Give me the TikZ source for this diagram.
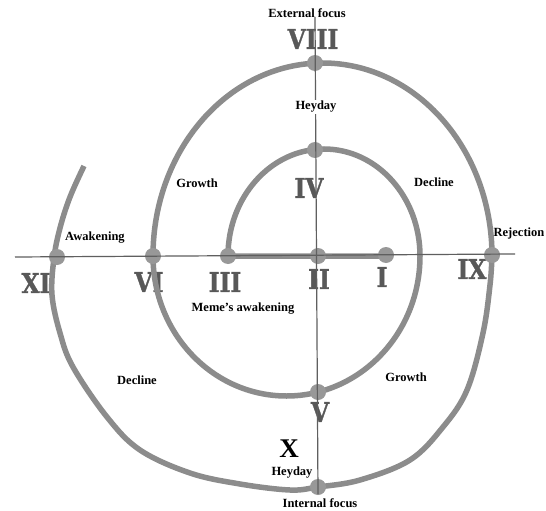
\documentclass[tikz,border=0pt]{standalone}
\usepackage{fontspec}
\setmainfont{Liberation Serif}
\newfontfamily\numfont[FakeStretch=0.86, FakeBold=1.2]{DejaVu Serif Bold}
\definecolor{spiralgray}{RGB}{140,140,140}
\definecolor{dotgray}{RGB}{152,152,152}
\definecolor{axisgray}{RGB}{95,95,95}
\definecolor{numgray}{RGB}{88,88,88}
\begin{document}
\begin{tikzpicture}[x=1pt,y=-1pt,
  spiralline/.style={line width=5.5pt, draw=spiralgray},
  axisline/.style={line width=1.2pt, draw=axisgray},
  dotnode/.style={circle, fill=dotgray, minimum size=16pt, inner sep=0pt},
  num/.style={font=\numfont\fontsize{27}{27}\selectfont, text=numgray, inner sep=0pt},
  lbl/.style={font=\bfseries\fontsize{12.5}{13}\selectfont, inner sep=0pt}]
\fill[white] (0,0) rectangle (546,511);
\useasboundingbox (0,0) rectangle (546,511);
% roman numerals
\node[num] (nVIII) at (313,39) {VIII};
\node[num] (nIV) at (309,188) {IV};
\node[num] (nIII) at (225,282) {III};
\node[num] (nII) at (319,279) {II};
\node[num] (nI) at (382,277) {I};
\node[num] (nVI) at (149,282) {VI};
\node[num] (nXI) at (36,283) {XI};
\node[num] (nIX) at (472,269) {IX};
\node[num] (nV) at (320,412) {V};
\node[font=\bfseries\fontsize{27}{27}\selectfont, inner sep=0pt] (nX) at (289,449) {X};
% spiral
\draw[spiralline] (386,256) -- (228,256)
  arc[start angle=180, end angle=360, x radius=96, y radius=107]
  arc[start angle=0, end angle=180, x radius=133.5, y radius=140]
  arc[start angle=180, end angle=360, x radius=169.5, y radius=193]
  -- plot[smooth, tension=0.6] coordinates {(492,256) (490,285) (483,333) (467,390) (443,427) (410,460) (360,480) (318,487) (290,490) (240,484) (190,473) (140,450) (107,417) (73,367) (60,333) (52,295) (54,258) (60,228) (70,197) (84,166)};
% dots
\node[dotnode] (dI) at (386,255) {};
\node[dotnode] (dII) at (318,256) {};
\node[dotnode] (dIII) at (228,256) {};
\node[dotnode] (dIV) at (315,150) {};
\node[dotnode] (dV) at (318,392) {};
\node[dotnode] (dVI) at (153,256) {};
\node[dotnode] (dVIII) at (315,63) {};
\node[dotnode] (dIX) at (492,255) {};
\node[dotnode] (dXI) at (57,257) {};
\node[dotnode] (dX) at (318,487) {};
% axes
\coordinate (vtop) at (315,17);
\coordinate (vbot) at (318,494);
\coordinate (hleft) at (15,257);
\coordinate (hright) at (515,254);
\draw[axisline] (vtop) -- (vbot);
\draw[axisline] (hleft) -- (hright);
% labels
\node[lbl] (ext) at (307,13) {External focus};
\node[lbl, fill=white, inner sep=1pt] (hey1) at (316,107) {Heyday};
\node[lbl] (gr1) at (197,183) {Growth};
\node[lbl] (de1) at (434,182) {Decline};
\node[lbl] (awk) at (95,238) {Awakening};
\node[lbl] (rej) at (519,233) {Rejection};
\node[lbl] (meme) at (243,309) {Meme\symbol{39}s awakening};
\node[lbl] (de2) at (137,380) {Decline};
\node[lbl] (gr2) at (406,377) {Growth};
\node[lbl] (hey2) at (292,473) {Heyday};
\node[lbl] (int) at (320,503) {Internal focus};
\end{tikzpicture}
\end{document}
